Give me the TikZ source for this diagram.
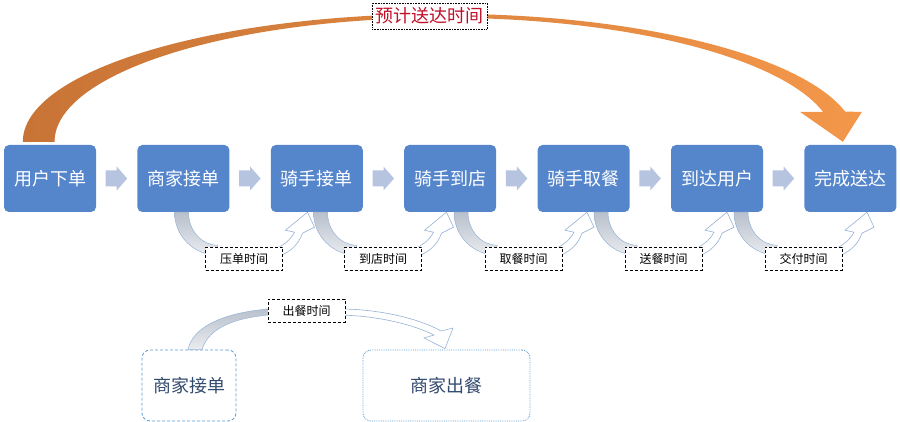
\documentclass[tikz,border=0pt]{standalone}
\usepackage{fontspec}
\newfontfamily\cjk{Noto Sans CJK SC}
\usetikzlibrary{calc}
\definecolor{boxblue}{RGB}{85,134,204}
\definecolor{chev}{RGB}{183,196,224}
\definecolor{arcL}{RGB}{200,116,54}
\definecolor{arcR}{RGB}{243,151,74}
\definecolor{lred}{RGB}{192,16,40}
\definecolor{edgeblue}{RGB}{150,178,214}
\definecolor{grayband}{RGB}{184,192,204}
\definecolor{dashblue}{RGB}{91,155,213}
\definecolor{darkblue}{RGB}{50,74,110}
\begin{document}
\begin{tikzpicture}[x=1pt,y=-1pt,font=\cjk,
  stepbox/.style={fill=boxblue,rounded corners=5pt,minimum width=92pt,minimum height=67pt,
    inner sep=0pt,text=white,font=\cjk\fontsize{18}{18}\selectfont},
  timelabel/.style={draw=black,densely dashed,line width=0.6pt,fill=white,minimum width=77pt,
    minimum height=23pt,inner sep=0pt,font=\cjk\fontsize{12}{12}\selectfont},
  subbox/.style={draw=dashblue,line width=0.8pt,rounded corners=8pt,inner sep=0pt,
    text=darkblue,font=\cjk\fontsize{18}{18}\selectfont,minimum height=71pt},
  graybandstyle/.style={top color=grayband,bottom color=grayband!30!white,draw=edgeblue,line width=0.5pt},
  whitearm/.style={fill=white,draw=edgeblue,line width=0.6pt},
  chevstyle/.style={fill=chev}]
\useasboundingbox (0,0) rectangle (900,422);

% main steps
\node[stepbox] (b1) at (50,178.5) {用户下单};
\node[stepbox] (b2) at (183.4,178.5) {商家接单};
\node[stepbox] (b3) at (316.8,178.5) {骑手接单};
\node[stepbox] (b4) at (450.2,178.5) {骑手到店};
\node[stepbox] (b5) at (583.6,178.5) {骑手取餐};
\node[stepbox] (b6) at (717,178.5) {到达用户};
\node[stepbox] (b7) at (850.4,178.5) {完成送达};

% chevrons between steps
\foreach \a/\b in {b1/b2,b2/b3,b3/b4,b4/b5,b5/b6,b6/b7}{
  \fill[chevstyle,shift={($(\a.east)!0.5!(\b.west)$)}]
    (-11,-8) -- (0,-8) -- (0,-12) -- (10.5,0) -- (0,12) -- (0,8) -- (-11,8) -- cycle;
}

% big orange arc
\shade[left color=arcL,right color=arcR]
  ($(b1.north west)+(19,-3)$)
  arc[start angle=180,end angle=270,x radius=422,y radius=128]
  arc[start angle=270,end angle=346.4,x radius=412,y radius=128]
  -- ($(b7.north)+(11.5,-33)$) -- ($(b7.north)+(-7.5,-3)$) -- ($(b7.north)+(-50.5,-33)$)
  -- ($(b7.north)+(-27.4,-33)$)
  arc[start angle=346,end angle=270,x radius=390,y radius=124]
  arc[start angle=270,end angle=180,x radius=390,y radius=124]
  -- cycle;
\node[draw=black,densely dotted,line width=0.6pt,fill=white,minimum width=115pt,minimum height=26pt,
  inner sep=0pt,text=lred,font=\cjk\fontsize{18}{18}\selectfont] (eta) at (429.5,16) {预计送达时间};

% time labels (positions only, drawn after arrows)
\path (244,258.5) coordinate (c1) (383,258.5) coordinate (c2) (523.5,258.5) coordinate (c3)
      (663.5,258.5) coordinate (c4) (803.5,258.5) coordinate (c5);
\foreach \i in {1,...,5}{
  \path ($(c\i)+(-38.5,0)$) coordinate (lw\i) ($(c\i)+(38.5,0)$) coordinate (le\i);
  \begin{scope}[shift={(lw\i |- b1.south)}]
    \shadedraw[graybandstyle] (-31,0) arc[start angle=180,end angle=90,x radius=43,y radius=43]
      -- (12,33) arc[start angle=90,end angle=180,x radius=29,y radius=33] -- cycle;
  \end{scope}
  \begin{scope}[shift={(le\i |- b1.south)}]
    \filldraw[whitearm] (-10,46) .. controls (6,42) and (16,33) .. (20,21)
      -- (32,15) -- (25,0) -- (3,18) -- (12,20) .. controls (8,28) and (0,34) .. (-10,38) -- cycle;
  \end{scope}
}
\node[timelabel] (lab1) at (c1) {压单时间};
\node[timelabel] (lab2) at (c2) {到店时间};
\node[timelabel] (lab3) at (c3) {取餐时间};
\node[timelabel] (lab4) at (c4) {送餐时间};
\node[timelabel] (lab5) at (c5) {交付时间};

% lower part
\node[subbox,densely dashed,minimum width=94pt] (m1) at (189,385.5) {商家接单};
\node[subbox,densely dotted,minimum width=167pt] (m2) at (446.5,385.5) {商家出餐};
\begin{scope}[shift={(m1.north)}]
  \shadedraw[graybandstyle] (-1,0) .. controls (4,-25) and (40,-38) .. (84,-41)
    -- (84,-35) .. controls (45,-32) and (20,-22) .. (13,0) -- cycle;
\end{scope}
\filldraw[whitearm] (340,309) .. controls (380,309) and (420,319) .. (441,331)
  -- (453,328) -- ($(m2.north)+(-1.5,-1)$) -- (424,338) -- (434,335)
  .. controls (414,325) and (380,316) .. (340,315) -- cycle;
\node[timelabel] (lab6) at (306.5,310.5) {出餐时间};
\end{tikzpicture}
\end{document}
